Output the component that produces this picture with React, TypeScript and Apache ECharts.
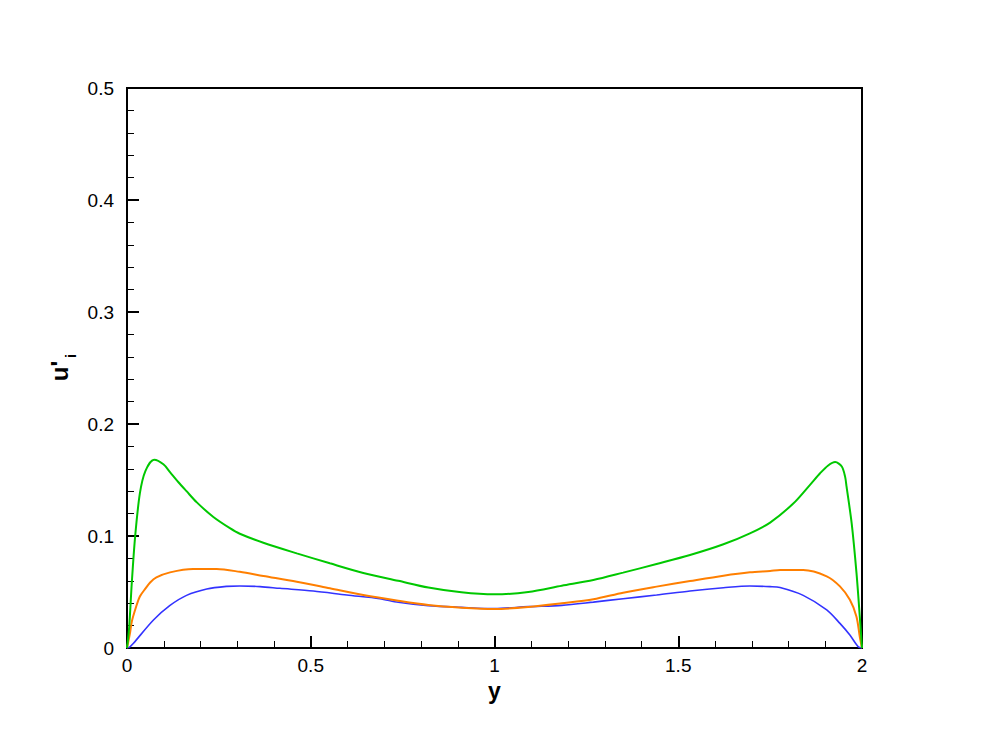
import React, { useEffect, useRef } from "react";
import * as echarts from "echarts";

// Green curve
const greenX = [0, 0.006, 0.013, 0.022, 0.035, 0.05, 0.074, 0.099, 0.117, 0.14, 0.162, 0.19, 0.235, 0.28, 0.307, 0.371, 0.462, 0.552, 0.643, 0.738, 0.82, 0.91, 1.0, 1.092, 1.183, 1.269, 1.35, 1.441, 1.532, 1.623, 1.695, 1.75, 1.813, 1.858, 1.886, 1.908, 1.927, 1.945, 1.954, 1.958, 1.972, 1.985, 1.994, 2.0];
const greenY = [0, 0.019, 0.058, 0.099, 0.138, 0.158, 0.168, 0.164, 0.157, 0.148, 0.14, 0.13, 0.117, 0.107, 0.102, 0.094, 0.0845, 0.0756, 0.067, 0.06, 0.054, 0.0497, 0.0479, 0.05, 0.0556, 0.0607, 0.0673, 0.075, 0.083, 0.0926, 0.1024, 0.112, 0.129, 0.1455, 0.156, 0.163, 0.166, 0.162, 0.153, 0.144, 0.111, 0.067, 0.028, 0];

// Orange curve
const orangeX = [0, 0.008, 0.013, 0.025, 0.035, 0.05, 0.063, 0.08, 0.117, 0.18, 0.244, 0.307, 0.371, 0.462, 0.552, 0.643, 0.738, 0.82, 0.91, 1.0, 1.092, 1.183, 1.269, 1.35, 1.441, 1.532, 1.623, 1.695, 1.75, 1.777, 1.84, 1.904, 1.94, 1.967, 1.985, 1.994, 2.0];
const orangeY = [0, 0.013, 0.0235, 0.037, 0.046, 0.053, 0.0585, 0.063, 0.0675, 0.0705, 0.0705, 0.068, 0.0643, 0.0592, 0.0533, 0.0473, 0.0422, 0.0384, 0.036, 0.0348, 0.0366, 0.0399, 0.0435, 0.0494, 0.0548, 0.0598, 0.0646, 0.0676, 0.0688, 0.0696, 0.0696, 0.064, 0.055, 0.043, 0.028, 0.01, 0];

// Blue curve
const blueX = [0, 0.008, 0.017, 0.072, 0.117, 0.162, 0.217, 0.271, 0.307, 0.362, 0.416, 0.507, 0.598, 0.688, 0.738, 0.82, 0.91, 1.0, 1.092, 1.183, 1.269, 1.35, 1.441, 1.532, 1.623, 1.695, 1.75, 1.777, 1.84, 1.904, 1.94, 1.967, 1.99, 2.0];
const blueY = [0, 0.001, 0.004, 0.025, 0.038, 0.047, 0.0527, 0.055, 0.0554, 0.0548, 0.0533, 0.0509, 0.0473, 0.044, 0.0408, 0.0378, 0.0363, 0.0352, 0.0369, 0.0381, 0.041, 0.044, 0.0473, 0.0509, 0.0538, 0.0554, 0.0548, 0.054, 0.047, 0.034, 0.022, 0.0116, 0.001, 0];

const xAxisTitle = "y";
const yAxisMain = "u'";
const yAxisSub = "i";

const zip = (xs: number[], ys: number[]) => xs.map((x, i) => [x, ys[i]]);

export default function App() {
  const ref = useRef<HTMLDivElement>(null);
  useEffect(() => {
    if (!ref.current) return;
    const chart = echarts.init(ref.current, null, { renderer: "svg" });
    const font = "'Liberation Sans', Arial, sans-serif";
    const axisCommon = {
      axisLine: { show: true, onZero: false, lineStyle: { color: "#000", width: 2 } },
      axisTick: { show: true, inside: true, length: 12, lineStyle: { color: "#000", width: 2 } },
      minorTick: { show: true, splitNumber: 5, length: 7, lineStyle: { color: "#000", width: 1 } },
      splitLine: { show: false },
      minorSplitLine: { show: false },
    };
    chart.setOption({
      animation: false,
      backgroundColor: "#fff",
      grid: { left: 127, right: 119, top: 88, bottom: 82, show: true, borderColor: "#000", borderWidth: 2, backgroundColor: "transparent" },
      xAxis: {
        type: "value",
        min: 0,
        max: 2,
        interval: 0.5,
        ...axisCommon,
        axisLabel: { color: "#000", fontSize: 19, fontFamily: font, margin: 8 },
        name: xAxisTitle,
        nameLocation: "middle",
        nameGap: 27,
        nameTextStyle: { color: "#000", fontSize: 23, fontWeight: "bold", fontFamily: font },
      },
      yAxis: {
        type: "value",
        min: 0,
        max: 0.5,
        interval: 0.1,
        ...axisCommon,
        axisLabel: { color: "#000", fontSize: 19, fontFamily: font, margin: 13 },
      },
      graphic: [
        {
          type: "text",
          x: 59,
          y: 371,
          rotation: Math.PI / 2,
          style: { text: yAxisMain, fontSize: 24, fontWeight: "bold", fontFamily: font, fill: "#000", align: "center", verticalAlign: "middle" },
        },
        {
          type: "text",
          x: 70,
          y: 356,
          rotation: Math.PI / 2,
          style: { text: yAxisSub, fontSize: 15, fontWeight: "bold", fontFamily: font, fill: "#000", align: "center", verticalAlign: "middle" },
        },
      ],
      series: [
        { type: "line", data: zip(blueX, blueY), showSymbol: false, smooth: 0.3, lineStyle: { color: "#3333ff", width: 1.6 }, z: 2 },
        { type: "line", data: zip(orangeX, orangeY), showSymbol: false, smooth: 0.3, lineStyle: { color: "#ff7f00", width: 2 }, z: 3 },
        { type: "line", data: zip(greenX, greenY), showSymbol: false, smooth: 0.3, lineStyle: { color: "#00c800", width: 2 }, z: 4 },
      ],
    });
    return () => chart.dispose();
  }, []);
  return <div ref={ref} style={{ width: 981, height: 730, position: "absolute", left: 0, top: 0 }} />;
}
